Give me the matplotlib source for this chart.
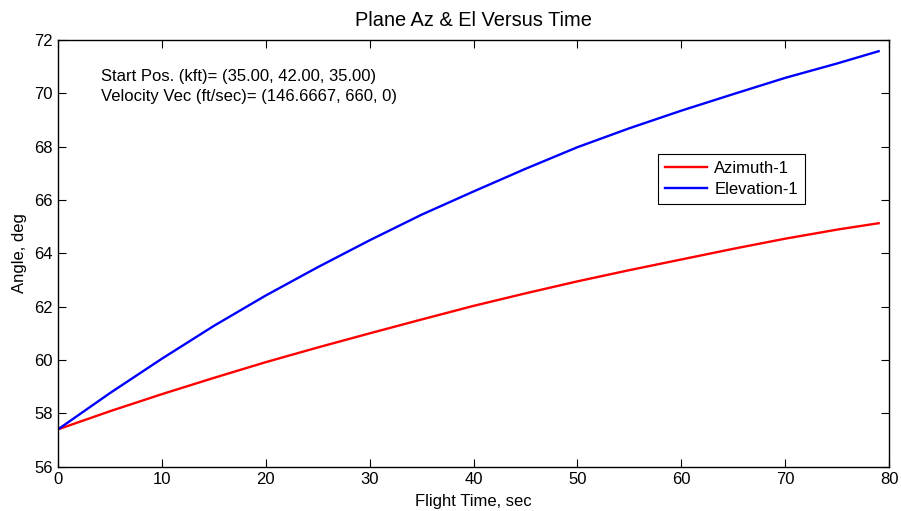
import matplotlib
matplotlib.use("Agg")
import matplotlib.pyplot as plt

# --- data (every 5 s, last sample at 79 s) ---
time_s = [0, 5, 10, 15, 20, 25, 30, 35, 40, 45, 50, 55, 60, 65, 70, 75, 79]
azimuth = [57.40, 58.08, 58.72, 59.33, 59.92, 60.47, 61.00, 61.52, 62.03,
           62.50, 62.95, 63.37, 63.77, 64.17, 64.55, 64.89, 65.13]
elevation = [57.40, 58.76, 60.05, 61.28, 62.42, 63.48, 64.49, 65.45, 66.32,
             67.17, 67.98, 68.69, 69.35, 69.97, 70.58, 71.12, 71.58]

x_ticks = [0, 10, 20, 30, 40, 50, 60, 70, 80]
y_ticks = [56, 58, 60, 62, 64, 66, 68, 70, 72]

info_lines = ["Start Pos. (kft)= (35.00, 42.00, 35.00)",
              "Velocity Vec (ft/sec)= (146.6667, 660, 0)"]

plt.rcParams["font.family"] = ["Liberation Sans", "DejaVu Sans"]
plt.rcParams["font.size"] = 12

fig = plt.figure(figsize=(9.01, 5.11), dpi=100)
ax = fig.add_axes([0.0644, 0.0867, 0.9223, 0.835])

ax.plot(time_s, azimuth, color="#ff0000", lw=1.7, label="Azimuth-1")
ax.plot(time_s, elevation, color="#0000ff", lw=1.7, label="Elevation-1")

ax.set_xlim(0, 80)
ax.set_ylim(56, 72)
ax.set_xticks(x_ticks)
ax.set_yticks(y_ticks)
ax.tick_params(direction="in", length=6, width=0.8, top=True, right=True, pad=4)
for sp in ax.spines.values():
    sp.set_linewidth(1.0)

ax.set_title("Plane Az & El Versus Time", pad=10)
ax.set_xlabel("Flight Time, sec", labelpad=4.5)
ax.set_ylabel("Angle, deg", labelpad=5)

ax.text(4.1, 70.62, info_lines[0], va="center", ha="left")
ax.text(4.1, 69.87, info_lines[1], va="center", ha="left")

leg = ax.legend(loc="upper left", bbox_to_anchor=(0.722, 0.733), frameon=True,
                fancybox=False, edgecolor="black", framealpha=1,
                handlelength=2.5, handletextpad=0.45, borderpad=0.42,
                labelspacing=0.35, borderaxespad=0)
leg.get_frame().set_linewidth(0.8)

fig.savefig("out.png", dpi=100)
